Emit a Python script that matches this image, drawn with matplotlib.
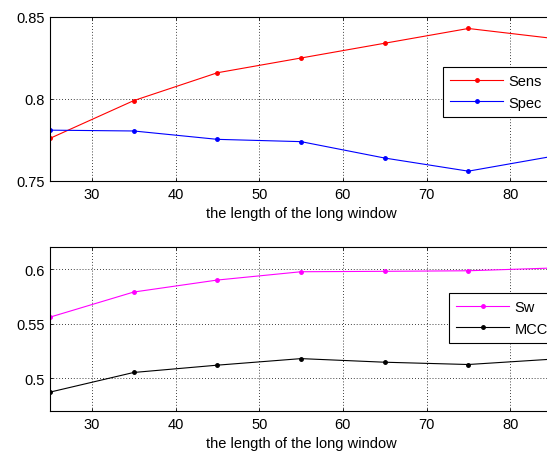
import matplotlib
matplotlib.use("Agg")
import matplotlib.pyplot as plt

# window lengths and metrics
window_len = [25, 35, 45, 55, 65, 75, 85]
sens = [0.776, 0.799, 0.816, 0.825, 0.834, 0.843, 0.837]
spec = [0.781, 0.7805, 0.7754, 0.774, 0.764, 0.756, 0.765]
sw = [0.556, 0.579, 0.590, 0.5976, 0.598, 0.5985, 0.601]
mcc = [0.4873, 0.5053, 0.512, 0.518, 0.5147, 0.5126, 0.5175]

xticks = [30, 40, 50, 60, 70, 80]

plt.rcParams["font.family"] = ["Liberation Sans", "DejaVu Sans"]
FS = 10.5

W, H = 547, 456
fig = plt.figure(figsize=(W / 100, H / 100), dpi=100)

ax1 = fig.add_axes([50 / W, 1 - 182 / H, 502 / W, 164 / H])
ax2 = fig.add_axes([50 / W, 1 - 412 / H, 502 / W, 163.7 / H])


def style_axes(ax, yticks, ylim):
    ax.set_xlim(25, 85)
    ax.set_ylim(*ylim)
    ax.set_xticks(xticks)
    ax.set_yticks(yticks)
    ax.set_yticklabels([f"{v:g}" for v in yticks])
    ax.grid(True, linestyle=(0, (1, 2.5)), color="black", linewidth=0.6)
    ax.tick_params(direction="in", length=2.5, width=0.6, colors="black",
                   labelsize=FS, top=True, right=True, pad=4)
    for s in ax.spines.values():
        s.set_linewidth(0.8)
    ax.set_xlabel("the length of the long window", fontsize=FS, labelpad=4)


mk = dict(marker=".", markersize=5, linewidth=0.8)
ax1.plot(window_len, sens, "-", color="#ff0000", label="Sens", **mk)
ax1.plot(window_len, spec, "-", color="#0000ff", label="Spec", **mk)
style_axes(ax1, [0.75, 0.8, 0.85], (0.75, 0.85))

ax2.plot(window_len, sw, "-", color="#ff00ff", label="Sw", **mk)
ax2.plot(window_len, mcc, "-", color="black", label="MCC", **mk)
style_axes(ax2, [0.5, 0.55, 0.6], (0.47, 0.62))

for ax, (lx, ly) in [(ax1, (443, 68)), (ax2, (449, 294))]:
    leg = ax.legend(loc="upper left", bbox_to_anchor=(lx / W, 1 - ly / H),
                    bbox_transform=fig.transFigure, fancybox=False, framealpha=1,
                    edgecolor="black", fontsize=FS, handlelength=3.6,
                    borderpad=0.5, labelspacing=0.5, handletextpad=0.4,
                    borderaxespad=0)
    leg.get_frame().set_linewidth(0.8)

fig.savefig("out.png", dpi=100)
